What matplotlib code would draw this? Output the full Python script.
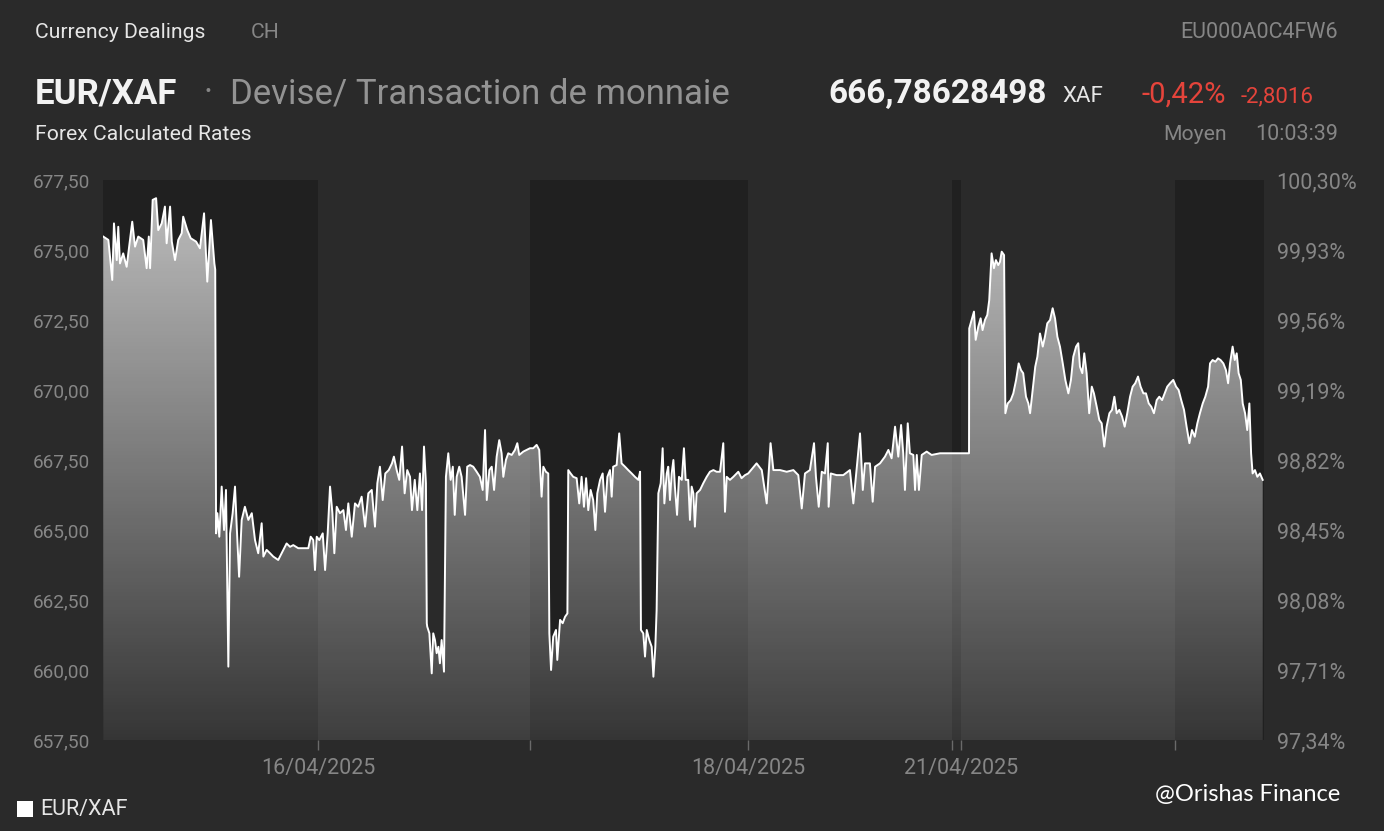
import numpy as np
import matplotlib.pyplot as plt
from matplotlib.patches import PathPatch, Rectangle
from matplotlib.ticker import FuncFormatter

plt.rcParams['font.family'] = ['Roboto', 'DejaVu Sans']

W, H = 1384, 831
BG = '#2a2a2a'
BAND = '#202020'
GREY = '#868686'
LIGHT = '#e6e6e6'
RED = '#e5443b'

# time axis: fractional days from 15/04/2025 (trading time, weekend squeezed)
day_edges = [0.0, 1.0, 1.986, 3.0, 3.947, 3.993, 4.986, 5.4]
tick_labels = ['16/04/2025', '', '18/04/2025', '', '21/04/2025', '']

# EUR/XAF quotes, one pair of lists per session
t15 = [0.001, 0.025, 0.043, 0.051, 0.064, 0.071, 0.079, 0.094, 0.110, 0.136,
       0.149, 0.164, 0.187, 0.203, 0.213, 0.219, 0.231, 0.247, 0.257, 0.273,
       0.288, 0.296, 0.312, 0.320, 0.335, 0.350, 0.366, 0.373, 0.392, 0.408,
       0.433, 0.451, 0.470, 0.485, 0.502, 0.518, 0.522,
       0.526, 0.532, 0.541, 0.552, 0.563, 0.572, 0.583, 0.591, 0.603, 0.614,
       0.622, 0.633, 0.645, 0.660, 0.676, 0.692, 0.707, 0.722, 0.738, 0.746,
       0.761, 0.777, 0.792, 0.815, 0.839, 0.854, 0.870, 0.885, 0.908, 0.932,
       0.955, 0.966, 0.978, 0.986, 0.994]
v15 = [675.48, 675.36, 673.93, 675.95, 674.64, 675.83, 674.52, 674.88, 674.40, 676.01,
       675.12, 675.48, 675.36, 674.35, 675.48, 674.35, 676.79, 676.85, 675.71, 675.95,
       676.55, 675.24, 676.55, 675.30, 674.64, 675.36, 675.60, 676.19, 675.71, 675.42,
       675.30, 675.06, 676.31, 673.87, 676.07, 674.52, 674.30,
       664.88, 665.60, 664.76, 666.55, 665.00, 666.43, 660.12, 664.88, 665.60, 666.55,
       665.12, 663.33, 665.36, 665.83, 665.36, 665.60, 664.64, 664.17, 665.24, 664.05,
       664.29, 664.17, 664.05, 663.93, 664.29, 664.52, 664.40, 664.46, 664.35, 664.35,
       664.35, 664.76, 664.64, 663.57, 664.76]

t16 = [1.006, 1.022, 1.033, 1.045, 1.056, 1.067, 1.076, 1.087, 1.102, 1.118,
       1.130, 1.141, 1.157, 1.172, 1.187, 1.203, 1.219, 1.234, 1.250, 1.265,
       1.276, 1.288, 1.301, 1.313, 1.329, 1.344, 1.353, 1.366, 1.378, 1.391,
       1.403, 1.415, 1.428, 1.437, 1.450, 1.462, 1.474, 1.484, 1.493, 1.502,
       1.506, 1.508, 1.518, 1.529, 1.536, 1.544, 1.552, 1.560, 1.567, 1.575, 1.586,
       1.595, 1.606, 1.617, 1.627, 1.636, 1.645, 1.657, 1.668, 1.684, 1.694,
       1.707, 1.722, 1.738, 1.753, 1.766, 1.777, 1.785, 1.797, 1.808, 1.819,
       1.831, 1.843, 1.854, 1.862, 1.874, 1.885, 1.901, 1.916, 1.927, 1.936,
       1.955, 1.971, 1.986]
v16 = [664.64, 664.88, 663.57, 664.88, 666.55, 665.60, 664.17, 665.83, 665.60, 665.71,
       665.00, 665.95, 664.76, 665.95, 665.83, 666.19, 665.12, 666.31, 666.43, 665.12,
       666.67, 667.26, 666.07, 667.02, 667.14, 667.38, 667.62, 667.14, 666.79, 667.98,
       666.31, 667.14, 666.90, 665.71, 666.79, 665.71, 667.02, 665.71, 667.98, 666.67,
       661.67, 661.55, 661.31, 659.88, 661.31, 661.07, 660.60, 660.83, 660.24, 661.07, 659.94,
       666.90, 667.74, 666.79, 667.26, 665.54, 666.90, 667.26, 666.90, 665.54, 667.26,
       667.32, 667.26, 667.08, 666.90, 666.43, 668.57, 666.07, 667.14, 667.26, 666.43,
       667.62, 668.21, 667.74, 666.90, 667.50, 667.74, 667.68, 667.86, 668.10, 667.68,
       667.80, 667.86, 667.92]

t17 = [2.001, 2.017, 2.029, 2.040, 2.048, 2.060, 2.071,
       2.076, 2.084, 2.094, 2.107, 2.113, 2.126, 2.138, 2.149, 2.160,
       2.164, 2.175, 2.187, 2.203, 2.215, 2.226, 2.237, 2.247, 2.257, 2.268,
       2.280, 2.290, 2.299, 2.312, 2.324, 2.335, 2.346, 2.358, 2.366, 2.373,
       2.389, 2.401, 2.412, 2.428, 2.443, 2.459, 2.474, 2.490, 2.498,
       2.502, 2.513, 2.521, 2.529, 2.541, 2.552, 2.560, 2.569, 2.575,
       2.583, 2.594, 2.603, 2.611, 2.622, 2.629, 2.637, 2.645, 2.653, 2.660,
       2.670, 2.679, 2.692, 2.702, 2.710, 2.722, 2.730, 2.738, 2.746, 2.753,
       2.761, 2.777, 2.792, 2.808, 2.823, 2.839, 2.854, 2.870, 2.885, 2.893,
       2.901, 2.916, 2.932, 2.955, 2.970, 2.986]
v17 = [667.92, 668.04, 667.86, 666.19, 667.26, 667.08, 667.02,
       661.31, 660.00, 661.19, 661.43, 660.36, 661.79, 661.67, 661.90, 662.02,
       667.14, 667.02, 666.90, 666.85, 665.95, 666.90, 665.83, 666.85, 665.71, 666.43,
       666.07, 665.00, 666.31, 666.79, 667.02, 665.65, 666.90, 667.14, 666.19, 667.26,
       667.32, 668.45, 667.38, 667.26, 667.14, 667.02, 666.90, 666.79, 667.08,
       661.43, 661.31, 660.48, 661.43, 661.07, 660.83, 659.76, 660.83, 662.14,
       666.31, 666.67, 667.92, 665.95, 667.02, 667.26, 666.07, 667.02, 667.50, 666.55,
       665.54, 666.90, 666.79, 667.92, 666.79, 666.79, 665.36, 666.55, 666.31, 665.12,
       666.31, 666.43, 666.67, 666.90, 667.08, 667.14, 667.08, 667.08, 668.10, 665.65,
       666.90, 666.79, 666.90, 667.08, 666.85, 666.96]

t18 = [3.001, 3.040, 3.064, 3.087, 3.105, 3.118, 3.149, 3.180, 3.211, 3.234,
       3.250, 3.265, 3.288, 3.307, 3.316, 3.329, 3.343, 3.358, 3.371, 3.375,
       3.385, 3.412, 3.443, 3.474, 3.490, 3.506, 3.521, 3.534, 3.544, 3.567,
       3.580, 3.591, 3.614, 3.637, 3.653, 3.668, 3.684, 3.699, 3.712, 3.722,
       3.730, 3.743, 3.753, 3.769, 3.777, 3.785, 3.795, 3.808, 3.831, 3.854,
       3.893, 4.028]
v18 = [667.02, 667.38, 667.14, 665.95, 668.10, 667.14, 667.14, 667.08, 667.14, 666.96,
       665.77, 667.02, 667.14, 668.10, 666.90, 665.83, 667.08, 667.02, 668.10, 665.83,
       667.02, 666.96, 666.96, 667.14, 665.95, 667.26, 668.45, 666.43, 667.38, 667.38,
       666.01, 667.26, 667.38, 667.62, 667.86, 667.56, 668.69, 667.62, 668.75, 667.74,
       666.43, 668.81, 667.74, 667.68, 666.43, 667.68, 666.43, 667.68, 667.80, 667.68,
       667.74, 667.74]

t21 = [4.029, 4.040, 4.051, 4.059, 4.071, 4.082, 4.091, 4.102, 4.113, 4.122,
       4.133, 4.144, 4.153, 4.164, 4.172, 4.180, 4.191,
       4.197, 4.208, 4.222, 4.234, 4.247, 4.259, 4.270, 4.280, 4.293, 4.304,
       4.312, 4.324, 4.336, 4.346, 4.358, 4.371, 4.381, 4.392, 4.405, 4.417,
       4.428, 4.439, 4.451, 4.464, 4.476, 4.490, 4.502, 4.513, 4.526, 4.536,
       4.544, 4.555, 4.564, 4.575, 4.587, 4.599, 4.609, 4.622, 4.634, 4.645,
       4.657, 4.668, 4.681, 4.693, 4.704, 4.715, 4.727, 4.740, 4.752, 4.764,
       4.777, 4.789, 4.801, 4.814, 4.826, 4.839, 4.851, 4.864, 4.876, 4.888,
       4.901, 4.913, 4.926, 4.938, 4.950, 4.963, 4.978]
v21 = [672.20, 672.50, 672.80, 671.79, 672.26, 672.56, 672.14, 672.50, 672.68, 673.21,
       674.88, 674.35, 674.64, 674.46, 674.58, 674.94, 674.82,
       669.17, 669.52, 669.64, 669.88, 670.36, 670.95, 670.71, 670.60, 669.76, 669.52,
       669.17, 670.00, 670.83, 671.19, 672.02, 671.55, 671.90, 672.38, 672.50, 672.92,
       672.56, 671.90, 671.55, 670.95, 670.36, 669.88, 670.36, 671.19, 671.55, 671.67,
       670.83, 670.60, 671.31, 670.60, 669.17, 670.12, 669.88, 669.40, 668.93, 668.81,
       667.98, 668.69, 669.17, 669.29, 669.76, 669.17, 669.29, 669.05, 668.69, 669.17,
       669.76, 670.12, 670.24, 670.48, 670.12, 669.88, 669.88, 669.52, 669.40, 669.17,
       669.64, 669.76, 669.64, 669.88, 670.12, 670.24, 670.36]

t22 = [4.991, 5.003, 5.015, 5.028, 5.040, 5.053, 5.065, 5.078, 5.090, 5.102,
       5.115, 5.127, 5.140, 5.149, 5.161, 5.174, 5.186, 5.198, 5.211, 5.223,
       5.233, 5.242, 5.254, 5.264, 5.273, 5.282, 5.292, 5.301, 5.312, 5.322,
       5.332, 5.340, 5.347, 5.358, 5.369, 5.381, 5.394]
v22 = [670.12, 670.00, 669.64, 669.29, 668.69, 668.10, 668.57, 668.33, 668.81, 669.17,
       669.52, 669.76, 670.12, 670.95, 671.07, 671.01, 671.13, 671.07, 670.95, 670.71,
       670.24, 670.95, 671.55, 671.07, 671.31, 670.60, 670.36, 669.52, 669.17, 668.57,
       669.52, 667.74, 667.02, 667.14, 666.90, 667.02, 666.79]

y_ticks = [657.5, 660.0, 662.5, 665.0, 667.5, 670.0, 672.5, 675.0, 677.5]

t = np.array(t15 + t16 + t17 + t18 + t21 + t22)
v = np.array(v15 + v16 + v17 + v18 + v21 + v22)
ref = v[0]  # right axis is relative to the first quote
ymin, ymax = y_ticks[0], y_ticks[-1]


def px(x, y):
    return x / W, 1 - y / H


fig = plt.figure(figsize=(W / 100, H / 100), dpi=100, facecolor=BG)
ax = fig.add_axes([103 / W, 91 / H, 1161 / W, 560 / H])
ax.set_facecolor(BG)
ax.set_xlim(day_edges[0], day_edges[-1])
ax.set_ylim(ymin, ymax)

# alternating session bands
for i in range(0, len(day_edges) - 1, 2):
    ax.axvspan(day_edges[i], day_edges[i + 1], color=BAND, lw=0, zorder=0)

# gradient area under the line
poly = ax.fill_between(t, v, ymin, facecolor='none', edgecolor='none')
clip = PathPatch(poly.get_paths()[0], transform=ax.transData,
                 facecolor='none', edgecolor='none')
ax.add_patch(clip)
grad = np.ones((256, 1, 4))
grad[:, 0, 3] = np.linspace(0.1, 0.72, 256)
img = ax.imshow(grad, extent=[day_edges[0], day_edges[-1], ymin, ymax],
                origin='lower', aspect='auto', zorder=2, interpolation='bilinear')
img.set_clip_path(clip)
ax.plot(t, v, color='white', lw=1.4, zorder=3)

for s in ax.spines.values():
    s.set_visible(False)
ax.set_yticks(y_ticks)
ax.yaxis.set_major_formatter(FuncFormatter(lambda y, p: f'{y:.2f}'.replace('.', ',')))
ax.tick_params(axis='y', length=0, pad=9, labelsize=13.7, labelcolor=GREY)
ax.set_xticks(day_edges[1:-1])
ax.set_xticklabels(tick_labels)
ax.tick_params(axis='x', length=7, width=1, color='#6a6a6a', pad=6,
               labelsize=15.5, labelcolor=GREY)

ax2 = ax.twinx()
ax2.set_ylim(ymin, ymax)
ax2.set_yticks(y_ticks)
ax2.yaxis.set_major_formatter(
    FuncFormatter(lambda y, p: f'{y / ref * 100:.2f}%'.replace('.', ',')))
ax2.tick_params(axis='y', length=0, pad=9, labelsize=15.5, labelcolor=GREY)
for s in ax2.spines.values():
    s.set_visible(False)

# header
fig.text(*px(35, 32), 'Currency Dealings', color=LIGHT, fontsize=15.2, va='center')
fig.text(*px(251, 32), 'CH', color=GREY, fontsize=15.2, va='center')
fig.text(*px(1338, 32), 'EU000A0C4FW6', color=GREY, fontsize=15.5, va='center', ha='right')
fig.text(*px(35, 94), 'EUR/XAF', color='#f2f2f2', fontsize=25, fontweight='bold', va='center')
fig.text(*px(203, 94), '·', color=GREY, fontsize=25, va='center')
fig.text(*px(230, 94), 'Devise/ Transaction de monnaie', color='#939393', fontsize=25, va='center')
fig.text(*px(828, 94), '666,78628498', color='#f2f2f2', fontsize=24, fontweight='bold', va='center')
fig.text(*px(1062, 97), 'XAF', color=LIGHT, fontsize=16, va='center')
fig.text(*px(1141, 95), '-0,42%', color=RED, fontsize=21, va='center')
fig.text(*px(1241, 97), '-2,8016', color=RED, fontsize=16, va='center')
fig.text(*px(35, 134), 'Forex Calculated Rates', color=LIGHT, fontsize=15.2, va='center')
fig.text(*px(1227, 134), 'Moyen', color=GREY, fontsize=15.2, va='center', ha='right')
fig.text(*px(1338, 134), '10:03:39', color=GREY, fontsize=15.5, va='center', ha='right')

# legend and credit
fig.patches.append(Rectangle(px(17, 817), 16 / W, 16 / H, transform=fig.transFigure,
                             facecolor='white', edgecolor='none'))
fig.text(*px(40, 810), 'EUR/XAF', color=LIGHT, fontsize=15.5, va='center')
fig.text(*px(1340, 795), '@Orishas Finance', color='white', fontsize=17, va='center',
         ha='right', family=['Lato', 'DejaVu Sans'])

fig.savefig('out.png', dpi=100, facecolor=BG)
